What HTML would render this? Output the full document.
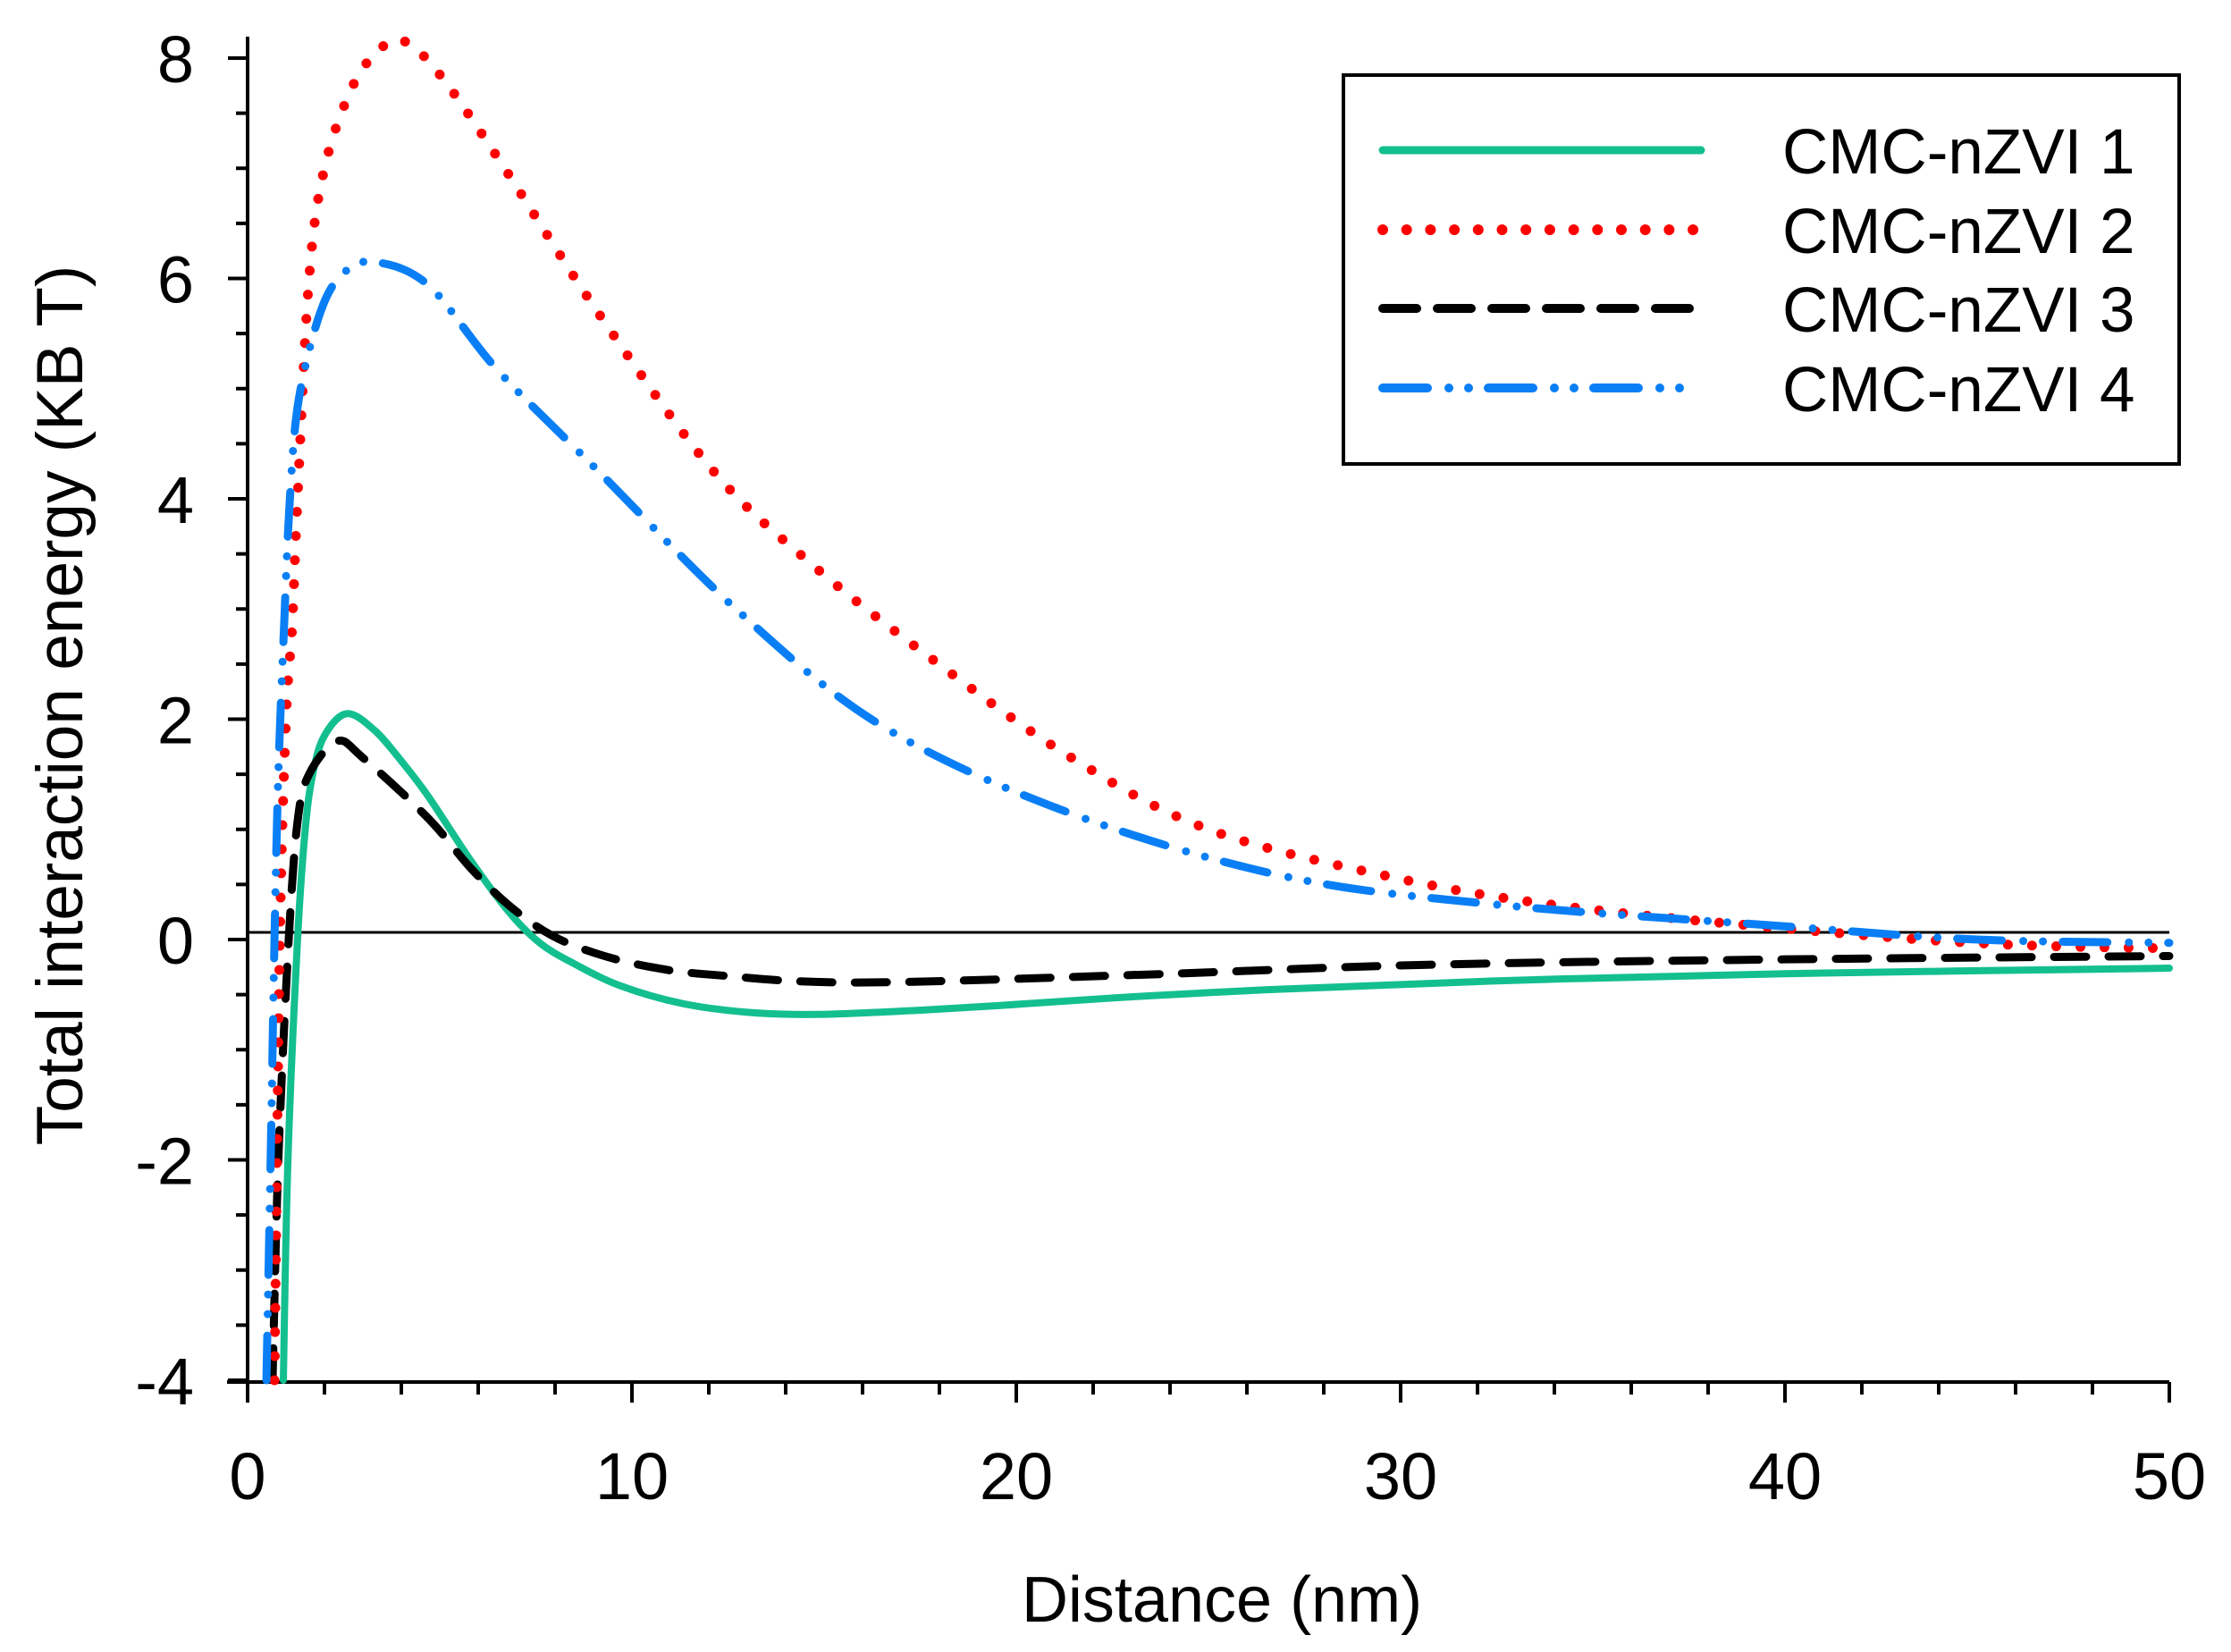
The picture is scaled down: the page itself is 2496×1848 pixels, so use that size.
<!DOCTYPE html>
<html><head><meta charset="utf-8"><style>
html,body{margin:0;padding:0;background:#fff;}
svg{display:block;}
text{font-family:"Liberation Sans",Arial,sans-serif;fill:#000;}
</style></head><body>
<svg id="s" width="2496" height="1848" viewBox="0 0 2496 1848" xmlns="http://www.w3.org/2000/svg">
<g id="ax" stroke="#000" stroke-width="4" fill="none"></g>
<line x1="277" y1="1043" x2="2427" y2="1043" stroke="#000" stroke-width="3"/>
<g id="curves" fill="none" stroke-linecap="round" stroke-linejoin="round"></g>
<g font-size="74" text-anchor="end" id="yl"></g>
<g font-size="74" text-anchor="middle" id="xl"></g>
<text x="1367" y="1814" font-size="72" text-anchor="middle">Distance (nm)</text>
<text transform="translate(92,789) rotate(-90)" font-size="73" text-anchor="middle">Total interaction energy (KB T)</text>
<rect x="1503" y="84" width="935" height="435" fill="#fff" stroke="#000" stroke-width="4"/>
<g stroke-linecap="round" fill="none">
<line x1="1547" y1="168" x2="1903" y2="168" stroke="#14BF8F" stroke-width="9"/>
<line x1="1547" y1="257" x2="1903" y2="257" stroke="#FF0000" stroke-width="12" stroke-dasharray="0 26.7"/>
<line x1="1547" y1="345" x2="1893" y2="345" stroke="#000" stroke-width="10" stroke-dasharray="38 23"/>
<line x1="1547" y1="434" x2="1883" y2="434" stroke="#0A7FF5" stroke-width="10" stroke-dasharray="50 24 0 22 0 22"/>
</g>
<g font-size="71">
<text x="1994" y="194">CMC-nZVI 1</text>
<text x="1994" y="283">CMC-nZVI 2</text>
<text x="1994" y="371">CMC-nZVI 3</text>
<text x="1994" y="460">CMC-nZVI 4</text>
</g>
</svg>
<script>
var NS="http://www.w3.org/2000/svg";
function X(x){return 277+43*x;}
function Y(y){return 1051-123.25*y;}
function el(p,t,a){var e=document.createElementNS(NS,t);for(var k in a)e.setAttribute(k,a[k]);p.appendChild(e);return e;}
var ax=document.getElementById('ax');
el(ax,'line',{x1:277,y1:41,x2:277,y2:1546});
el(ax,'line',{x1:254,y1:1546,x2:2427,y2:1546});
for(var i=0;i<=24;i++){var v=-4+i*0.5,y=Y(v),L=(i%4==0)?22:13;el(ax,'line',{x1:277-L,y1:y,x2:277,y2:y});}
for(var v=0;v<=50;v+=2){var x=X(v);el(ax,'line',{x1:x,y1:1546,x2:x,y2:1560});}
for(var v=0;v<=50;v+=10){var x=X(v);el(ax,'line',{x1:x,y1:1546,x2:x,y2:1569});}
var yl=document.getElementById('yl');
[-4,-2,0,2,4,6,8].forEach(function(v){var t=el(yl,'text',{x:217,y:Y(v)+27});t.textContent=v;});
var xl=document.getElementById('xl');
[0,10,20,30,40,50].forEach(function(v){var t=el(xl,'text',{x:X(v),y:1677});t.textContent=v;});
function path(pts){var P=pts.map(function(p){return [X(p[0]),Y(p[1])];});
var d="M"+P[0][0]+","+P[0][1];
for(var i=0;i<P.length-1;i++){var p0=P[i-1]||P[i],p1=P[i],p2=P[i+1],p3=P[i+2]||P[i+1];
var c1=[p1[0]+(p2[0]-p0[0])/6,p1[1]+(p2[1]-p0[1])/6],c2=[p2[0]-(p3[0]-p1[0])/6,p2[1]-(p3[1]-p1[1])/6];
d+=" C"+c1+" "+c2+" "+p2;}return d;}
var C=document.getElementById('curves');
var green=[[0.93,-4],[1.05,-2],[1.3,0],[1.5,1.0],[1.7,1.51],[2.0,1.85],[2.58,2.05],[3.3,1.9],[4.0,1.62],[4.7,1.3],[5.8,0.72],[6.8,0.25],[7.6,-0.03],[8.5,-0.22],[9.7,-0.42],[11.3,-0.58],[13,-0.66],[14.7,-0.68],[17,-0.65],[19.5,-0.6],[23,-0.52],[26.9,-0.45],[33,-0.37],[40,-0.31],[50,-0.26]];
var black=[[0.65,-4],[0.8,-2],[1.07,0],[1.3,1.07],[1.6,1.5],[2.33,1.8],[3,1.65],[4.7,1.1],[5.8,0.65],[6.8,0.31],[7.9,0.04],[9.1,-0.13],[10.5,-0.25],[12.1,-0.32],[15.8,-0.39],[23.2,-0.32],[30.6,-0.23],[40,-0.18],[50,-0.15]];
var blue=[[0.49,-4],[0.6,-2],[0.7,0],[0.8,1.5],[0.95,2.85],[1.1,4],[1.33,4.9],[1.9,5.7],[2.5,6.05],[3.3,6.15],[4.7,5.94],[6.5,5.17],[9.1,4.26],[12.8,2.97],[16.5,1.94],[21.3,1.16],[26.9,0.58],[32.4,0.32],[40,0.12],[45,0.0],[50,-0.03]];
var red=[[0.7,-4],[0.84,0],[1.0,2],[1.16,2.85],[1.3,4],[1.6,6],[2.0,7.0],[2.74,7.75],[3.5,8.1],[4.1,8.15],[5,7.85],[6.5,7.1],[9.1,5.7],[12.1,4.26],[14.7,3.4],[17.6,2.6],[21.3,1.68],[25,1.0],[30,0.55],[34.3,0.3],[40,0.1],[45.4,-0.04],[50,-0.08]];
el(C,'path',{d:path(green),stroke:'#14BF8F','stroke-width':8});
el(C,'path',{d:path(black),stroke:'#000','stroke-width':9,'stroke-dasharray':'36 25'});
el(C,'path',{d:path(red),stroke:'#FF0000','stroke-width':11,'stroke-dasharray':'0 27'});
el(C,'path',{d:path(blue),stroke:'#0A7FF5','stroke-width':9,'stroke-dasharray':'50 24 0 22 0 22'});
</script>
</body></html>
